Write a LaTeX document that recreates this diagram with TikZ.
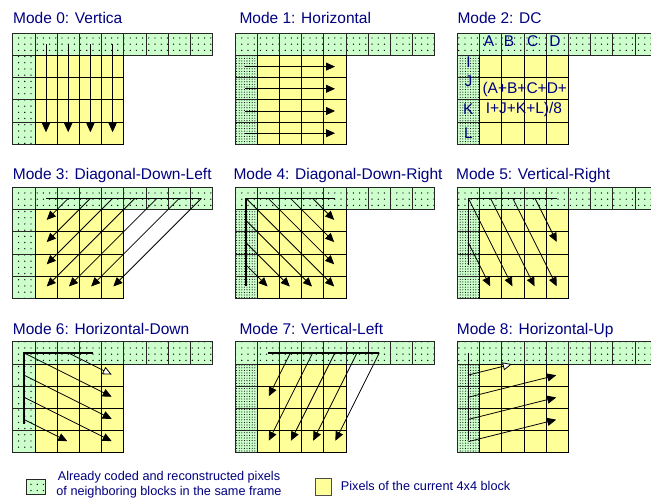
\documentclass[tikz,border=0pt]{standalone}
\usepackage{fontspec}
\setmainfont{Liberation Sans}
\usetikzlibrary{arrows.meta,patterns.meta}
\definecolor{nbrgreen}{RGB}{204,255,204}
\definecolor{curyellow}{RGB}{255,255,153}
\definecolor{labelblue}{RGB}{0,0,128}
\newcommand{\modefont}{\fontsize{15.5}{18}\selectfont}
\newcommand{\legendfont}{\fontsize{12.7}{15}\selectfont}
\tikzset{
  nbr/.style={draw=black!85, line width=0.8pt, preaction={fill=nbrgreen}, pattern={Dots[distance=6.2pt,radius=0.7pt]}},
  nbrdense/.style={draw=black!85, line width=0.8pt, preaction={fill=nbrgreen}, pattern={Dots[distance=2.6pt,radius=0.55pt]}},
  cur/.style={draw=black, line width=0.8pt, fill=curyellow},
  pred/.style={line width=0.8pt, -{Triangle[length=9pt,width=8pt]}, shorten >=1pt},
  predopen/.style={line width=0.8pt, -{Triangle[length=9pt,width=8pt,fill=white]}, shorten >=1pt},
  refline/.style={line width=1.6pt},
  modetitle/.style={anchor=base west, inner sep=0pt, text=labelblue, font=\modefont},
  dclabel/.style={anchor=base, inner sep=0pt, text=labelblue, font=\modefont},
  panel/.style={x=22.2pt, y=-22.2pt}
}
\newcommand{\predgrid}[1]{%
  \foreach \c in {0,...,8} \path[nbr] (\c,0) rectangle ++(1,1);
  \foreach \r in {1,...,4} \path[#1] (0,\r) rectangle ++(1,1);
  \foreach \c in {1,...,4} \foreach \r in {1,...,4} \path[cur] (\c,\r) rectangle ++(1,1);
}
\begin{document}
\begin{tikzpicture}[x=1pt,y=-1pt]
  \useasboundingbox (0,0) rectangle (651,503);
  \clip (0,0) rectangle (651,503);

  \node[modetitle] (t0) at (13,24) {Mode 0: Vertica};
  \node[modetitle] (t1) at (239.3,24) {Mode 1: Horizontal};
  \node[modetitle] (t2) at (457.3,24) {Mode 2: DC};
  \node[modetitle] (t3) at (12.7,179) {Mode 3: Diagonal-Down-Left};
  \node[modetitle] (t4) at (233.3,179) {Mode 4: Diagonal-Down-Right};
  \node[modetitle] (t5) at (456,179) {Mode 5: Vertical-Right};
  \node[modetitle] (t6) at (12.7,334) {Mode 6: Horizontal-Down};
  \node[modetitle] (t7) at (239.3,334) {Mode 7: Vertical-Left};
  \node[modetitle] (t8) at (456.7,334) {Mode 8: Horizontal-Up};

  \begin{scope}[xshift=12.7pt, yshift=-33.3pt, panel]
    \predgrid{nbr}
    \foreach \c in {1,...,4} \draw[pred] (\c+0.5,0.5) -- (\c+0.5,4.5);
  \end{scope}

  \begin{scope}[xshift=235pt, yshift=-33.3pt, panel]
    \predgrid{nbrdense}
    \foreach \r in {1,...,4} \draw[pred] (0.45,\r+0.5) -- (4.55,\r+0.5);
  \end{scope}

  \begin{scope}[xshift=457.3pt, yshift=-33.3pt, panel]
    \predgrid{nbrdense}
    \node[dclabel] (pA) at (1.43,0.6) {A};
    \node[dclabel] (pB) at (2.33,0.6) {B};
    \node[dclabel] (pC) at (3.4,0.6) {C};
    \node[dclabel] (pD) at (4.4,0.6) {D};
    \node[dclabel] (pI) at (0.5,1.56) {I};
    \node[dclabel] (pJ) at (0.5,2.4) {J};
    \node[dclabel] (pK) at (0.5,3.68) {K};
    \node[dclabel] (pL) at (0.5,4.72) {L};
    \node[dclabel] (dcsum) at (3.04,2.7) {(A+B+C+D+};
    \node[dclabel] (dcdiv) at (3.0,3.6) {I+J+K+L)/8};
  \end{scope}

  \begin{scope}[xshift=12.7pt, yshift=-187.3pt, panel]
    \predgrid{nbr}
    \draw[refline] (1.5,0.5) -- (8.5,0.5);
    \foreach \s/\d in {2.5/1,3.5/2,4.5/3,5.5/4,6.5/4,7.5/4,8.5/4}
      \draw[pred] (\s,0.5) -- ++(-\d,\d);
  \end{scope}

  \begin{scope}[xshift=235pt, yshift=-187.3pt, panel]
    \predgrid{nbrdense}
    \draw[refline] (0.5,4.45) -- (0.5,0.5) -- (4.5,0.5);
    \foreach \x/\y/\d in {3.5/0.5/1,2.5/0.5/2,1.5/0.5/3,0.5/0.5/4,0.5/1.5/3,0.5/2.5/2,0.5/3.5/1}
      \draw[pred] (\x,\y) -- ++(\d,\d);
  \end{scope}

  \begin{scope}[xshift=457.3pt, yshift=-187.3pt, panel]
    \predgrid{nbrdense}
    \draw[refline] (0.5,3.5) -- (0.5,0.5) -- (4.5,0.5);
    \draw[pred] (3.5,0.5) -- ++(1,2);
    \foreach \x in {2.5,1.5,0.5} \draw[pred] (\x,0.5) -- ++(2,4);
    \draw[pred] (0.5,2.5) -- ++(1,2);
  \end{scope}

  \begin{scope}[xshift=12.7pt, yshift=-341.7pt, panel]
    \predgrid{nbr}
    \draw[refline] (0.5,3.7) -- (0.5,0.5) -- (3.6,0.5);
    \draw[predopen] (2.5,0.5) -- ++(2,1);
    \foreach \y in {0.5,1.5,2.5} \draw[pred] (0.5,\y) -- ++(4,2);
    \draw[pred] (0.5,3.5) -- ++(2,1);
  \end{scope}

  \begin{scope}[xshift=235pt, yshift=-341.7pt, panel]
    \predgrid{nbrdense}
    \draw[refline] (1.5,0.5) -- (6.5,0.5);
    \draw[pred] (2.5,0.5) -- ++(-1,2);
    \foreach \x in {3.5,4.5,5.5,6.5} \draw[pred] (\x,0.5) -- ++(-2,4);
  \end{scope}

  \begin{scope}[xshift=457.3pt, yshift=-341.7pt, panel]
    \predgrid{nbrdense}
    \draw[refline] (0.5,0.5) -- (0.5,4.45);
    \draw[predopen] (0.5,1.5) -- ++(2,-0.5);
    \foreach \y in {2.5,3.5,4.5} \draw[pred] (0.5,\y) -- ++(4,-1);
  \end{scope}

  \path[nbr] (26.7,479.3) rectangle (45,494.3);
  \node[anchor=north, inner sep=0pt, align=center, text=labelblue, font=\legendfont] (legnbr) at (169,471.3)
    {Already coded and reconstructed pixels\\of neighboring blocks in the same frame};
  \path[cur, draw=black!70] (315,478.3) rectangle (331.7,495.7);
  \node[anchor=base west, inner sep=0pt, text=labelblue, font=\legendfont] (legcur) at (340.7,490)
    {Pixels of the current 4x4 block};
\end{tikzpicture}
\end{document}
